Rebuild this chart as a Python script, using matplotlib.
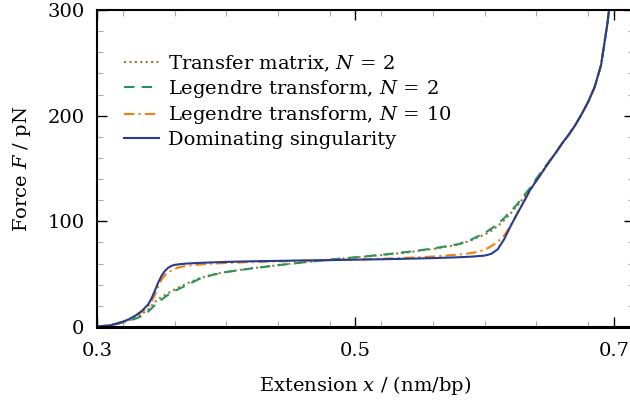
import matplotlib
matplotlib.use("Agg")
import matplotlib.pyplot as plt
from matplotlib.ticker import MultipleLocator

plt.rcParams["font.family"] = "DejaVu Serif"
plt.rcParams["mathtext.fontset"] = "dejavuserif"

# extension grid (nm/bp)
ext = [0.300, 0.310, 0.320, 0.325, 0.330, 0.335, 0.340, 0.3425, 0.345, 0.3475,
       0.350, 0.3525, 0.355, 0.3575, 0.360, 0.365, 0.370, 0.380, 0.390, 0.400,
       0.420, 0.440, 0.460, 0.480, 0.500, 0.520, 0.540, 0.560, 0.580, 0.590,
       0.600, 0.605, 0.610, 0.615, 0.620, 0.625, 0.630, 0.635, 0.640, 0.645,
       0.650, 0.655, 0.660, 0.665, 0.670, 0.675, 0.680, 0.685, 0.690, 0.695,
       0.700]

# force (pN)
f_dom = [0.5, 1.5, 5.0, 7.5, 11.0, 15.5, 22.0, 28.0, 35.0, 42.5,
         48.5, 53.0, 56.0, 57.8, 58.8, 59.6, 60.1, 60.7, 61.2, 61.6,
         62.2, 62.6, 63.0, 63.3, 63.7, 64.1, 64.6, 65.2, 66.0, 66.6,
         67.6, 69.2, 73.5, 83.0, 95.5, 107.0, 118.0, 129.5, 138.5, 147.5,
         156.5, 165.0, 174.0, 182.0, 191.0, 201.5, 213.0, 227.0, 248.0, 288.0,
         340.0]

f_leg10 = [0.5, 1.5, 4.8, 7.2, 10.5, 14.5, 20.0, 25.0, 31.0, 38.5,
           45.0, 49.0, 51.5, 53.5, 55.0, 57.0, 58.0, 59.2, 60.0, 60.6,
           61.5, 62.1, 62.7, 63.3, 63.9, 64.6, 65.5, 66.7, 68.5, 70.0,
           73.0, 76.5, 80.5, 86.5, 96.0, 107.0, 118.0, 129.5, 138.5, 147.5,
           156.5, 165.0, 174.0, 182.0, 191.0, 201.5, 213.0, 227.0, 248.0, 288.0,
           340.0]

f_leg2 = [0.5, 1.3, 4.2, 6.0, 8.0, 10.5, 15.0, 18.0, 21.0, 23.5,
          26.0, 28.3, 30.5, 32.3, 34.0, 37.0, 40.0, 46.0, 49.5, 52.0,
          55.5, 58.5, 61.2, 63.8, 66.0, 68.3, 71.0, 74.3, 78.5, 83.0,
          89.0, 93.0, 97.5, 103.0, 109.5, 116.0, 124.0, 131.5, 140.5, 149.0,
          157.0, 165.0, 174.0, 182.0, 191.0, 201.5, 213.0, 227.0, 248.0, 288.0,
          340.0]

f_tm2 = [0.5, 1.4, 4.5, 6.5, 9.0, 12.5, 17.0, 20.5, 24.0, 26.5,
         28.5, 30.3, 32.0, 33.8, 35.5, 38.5, 41.5, 46.5, 49.8, 52.2,
         55.6, 58.5, 61.2, 63.7, 65.8, 68.0, 70.6, 73.8, 78.0, 82.3,
         87.5, 91.0, 95.5, 101.0, 107.5, 114.5, 122.0, 130.0, 139.0, 148.0,
         157.0, 165.0, 174.0, 182.0, 191.0, 201.5, 213.0, 227.0, 248.0, 288.0,
         340.0]

fig = plt.figure(figsize=(6.3, 4.05), dpi=100)
ax = fig.add_axes([97 / 630, 78 / 405, 537 / 630, 317 / 405])

ax.plot(ext, f_tm2, color="#8c7d3c", lw=1.5, ls=(0, (1, 1.6)),
        label=r"Transfer matrix, $N\,=\,2$")
ax.plot(ext, f_leg2, color="#2a9158", lw=1.5, ls=(0, (5, 3.5)),
        label=r"Legendre transform, $N\,=\,2$")
ax.plot(ext, f_leg10, color="#f57d0f", lw=1.5, ls=(0, (5, 2, 1, 2)),
        label=r"Legendre transform, $N\,=\,10$")
ax.plot(ext, f_dom, color="#263d8e", lw=1.5, label="Dominating singularity")

ax.set_xlim(0.3, 0.3 + 537 / 1292.5)
ax.set_ylim(0, 300)
ax.set_xticks([0.3, 0.5, 0.7])
ax.set_xticklabels(["0.3", "0.5", "0.7"])
ax.xaxis.set_minor_locator(MultipleLocator(0.04))
ax.set_yticks([0, 100, 200, 300])
ax.yaxis.set_minor_locator(MultipleLocator(20))

ax.tick_params(which="both", direction="in", top=True, right=True,
               labelsize=14)
ax.tick_params(which="major", length=7, width=1.0, color="black", pad=9)
ax.tick_params(axis="x", which="major", pad=11)
ax.tick_params(which="minor", length=4.5, width=0.8, color="#aaaaaa")
for s in ax.spines.values():
    s.set_linewidth(1.5)
ax.spines["bottom"].set_linewidth(2.2)

ax.set_xlabel(r"Extension $x$ / (nm/bp)", fontsize=14, labelpad=10)
ax.set_ylabel(r"Force $F$ / pN", fontsize=14, labelpad=10)

ax.legend(loc="upper left", bbox_to_anchor=(0.035, 0.887), frameon=False,
          fontsize=14, handlelength=1.8, handletextpad=0.5,
          labelspacing=0.22, borderaxespad=0)

fig.savefig("out.png", dpi=100)
